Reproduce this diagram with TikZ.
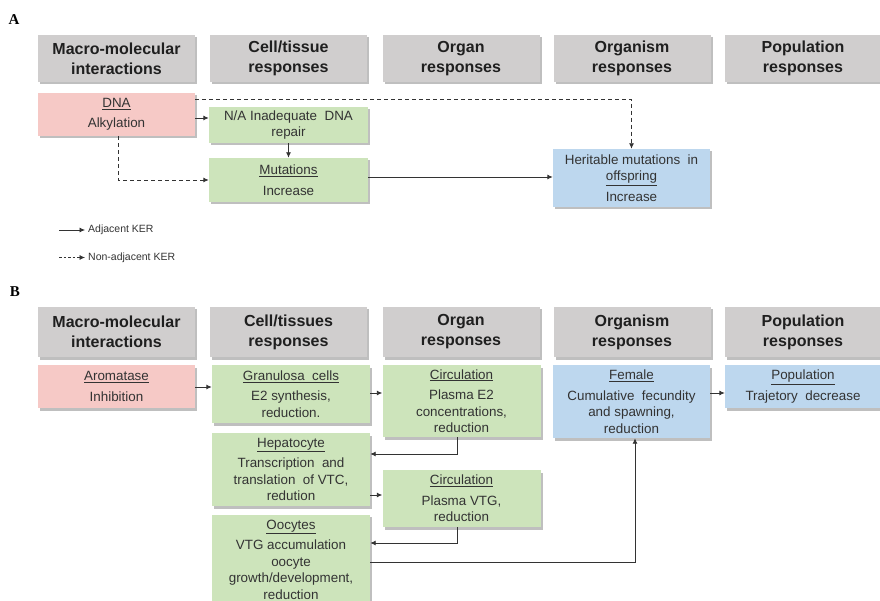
\documentclass[tikz,border=0pt]{standalone}
\usepackage{fontspec}
\setmainfont{Liberation Sans}
\newfontfamily\serifpanel{Liberation Serif}
\usetikzlibrary{arrows.meta,shadows}
\definecolor{hdrgray}{HTML}{D0CECE}
\definecolor{pinkbox}{HTML}{F6C9C6}
\definecolor{greenbox}{HTML}{CDE4BB}
\definecolor{bluebox}{HTML}{BDD7EE}
\definecolor{txtdark}{HTML}{333333}
\definecolor{linedark}{HTML}{333333}
\tikzset{
  base/.style={rectangle, inner sep=1pt, align=center,
    drop shadow={shadow xshift=2pt, shadow yshift=-2.5pt, fill=black, opacity=0.25}},
  hdr/.style={base, fill=hdrgray, text=black!88, font=\fontsize{16}{20}\selectfont\bfseries,
    minimum width=157pt, minimum height=47pt},
  boxfont/.style={font=\fontsize{13.4}{16.5}\selectfont},
  pinkb/.style={base, fill=pinkbox, text=txtdark, boxfont, minimum width=157pt},
  greenb/.style={base, fill=greenbox, text=txtdark, boxfont, minimum width=158pt},
  blueb/.style={base, fill=bluebox, text=txtdark, boxfont, minimum width=157pt},
  arr/.style={draw=linedark, line width=0.9pt, -{Latex[length=5.5pt,width=5pt]}},
  darr/.style={arr, dash pattern=on 4pt off 3pt},
  panel/.style={font=\serifpanel\fontsize{15}{15}\selectfont\bfseries, inner sep=0pt},
  legtxt/.style={font=\fontsize{10.5}{11}\selectfont, text=txtdark, anchor=west, inner sep=0pt}
}
\begin{document}
\begin{tikzpicture}[x=1pt,y=-1pt]
\useasboundingbox (0,0) rectangle (880,601);
% ---------- Panel A ----------
\node[panel] (lA) at (14,20) {A};
\node[hdr] (a1) at (116.5,58.5) {Macro-molecular\\interactions};
\node[hdr] (a2) at (288.5,58.5) {Cell/tissue\\responses};
\node[hdr] (a3) at (461,58.5) {Organ\\responses};
\node[hdr] (a4) at (632,58.5) {Organism\\responses};
\node[hdr] (a5) at (803,58.5) {Population\\responses};

\node[pinkb, minimum height=43pt] (dna) at (116.5,114.5) {\underline{DNA}\\[4pt]Alkylation};
\node[greenb, minimum width=159pt, minimum height=36pt] (na) at (288.5,125) {N/A Inadequate\ \ DNA\\repair};
\node[greenb, minimum width=159pt, minimum height=44pt] (mut) at (288.5,180) {\underline{Mutations}\\[4pt]Increase};
\node[blueb, minimum height=58pt] (her) at (631.5,178) {Heritable mutations\ \ in\\\underline{offspring}\\[4pt]Increase};

\draw[arr] (dna.east |- 0,118) -- (na.west |- 0,118);
\draw[arr] (na.south) -- (mut.north);
\draw[darr] (dna.east |- 0,99) -| (her.north);
\draw[darr] (dna.south -| 118,0) |- (mut.west);
\draw[arr] (mut.east |- 0,177) -- (her.west |- 0,177);

% legend
\coordinate (l1a) at (59,230); \coordinate (l1b) at (85,230);
\coordinate (l2a) at (59,257.5); \coordinate (l2b) at (85,257.5);
\draw[arr, line width=0.7pt] (l1a) -- (l1b);
\draw[darr, line width=0.7pt, dash pattern=on 2.5pt off 2pt] (l2a) -- (l2b);
\node[legtxt] (lg1) at (88,230) {Adjacent KER};
\node[legtxt] (lg2) at (88,257.5) {Non-adjacent KER};

% ---------- Panel B ----------
\node[panel] (lB) at (15,292) {B};
\node[hdr, minimum height=50pt] (b1) at (116.5,332) {Macro-molecular\\interactions};
\node[hdr, minimum height=50pt] (b2) at (288.5,332) {Cell/tissues\\responses};
\node[hdr, minimum height=50pt] (b3) at (461,332) {Organ\\responses};
\node[hdr, minimum height=50pt] (b4) at (632,332) {Organism\\responses};
\node[hdr, minimum height=50pt] (b5) at (803,332) {Population\\responses};

\node[pinkb, minimum height=43pt] (arom) at (116.5,386.5) {\underline{Aromatase}\\[4pt]Inhibition};
\node[greenb, minimum height=58pt] (gran) at (291,394) {\underline{Granulosa\ \ cells}\\[4pt]E2 synthesis,\\reduction.};
\node[greenb, minimum height=72pt] (circ1) at (461.5,401) {\underline{Circulation}\\[4pt]Plasma E2\\concentrations,\\reduction};
\node[blueb, minimum height=73pt] (fem) at (631.5,401.5) {\underline{Female}\\[4pt]Cumulative\ \ fecundity\\and spawning,\\reduction};
\node[blueb, minimum width=156pt, minimum height=43pt] (pop) at (803,386.5) {\underline{Population}\\[4pt]Trajetory\ \ decrease};
\node[greenb, minimum height=73pt] (hep) at (291,469.5) {\underline{Hepatocyte}\\[4pt]Transcription\ \ and\\translation\ \ of VTC,\\redution};
\node[greenb, minimum height=57pt] (circ2) at (461.5,498.5) {\underline{Circulation}\\[4pt]Plasma VTG,\\reduction};
\node[greenb, minimum height=90pt] (ooc) at (291,559.5) {\underline{Oocytes}\\[4pt]VTG accumulation\\oocyte\\growth/development,\\reduction};

\draw[arr] (arom.east |- 0,387) -- (gran.west |- 0,387);
\draw[arr] (gran.east |- 0,393) -- (circ1.west |- 0,393);
\draw[arr] (fem.east |- 0,393) -- (pop.west |- 0,393);
\draw[arr] (circ1.south -| 457,0) |- (hep.east |- 0,454);
\draw[arr] (hep.east |- 0,495) -- (circ2.west |- 0,495);
\draw[arr] (circ2.south -| 457,0) |- (ooc.east |- 0,543);
\draw[arr] (ooc.east |- 0,562) -| (fem.south -| 635,0);
\end{tikzpicture}
\end{document}
